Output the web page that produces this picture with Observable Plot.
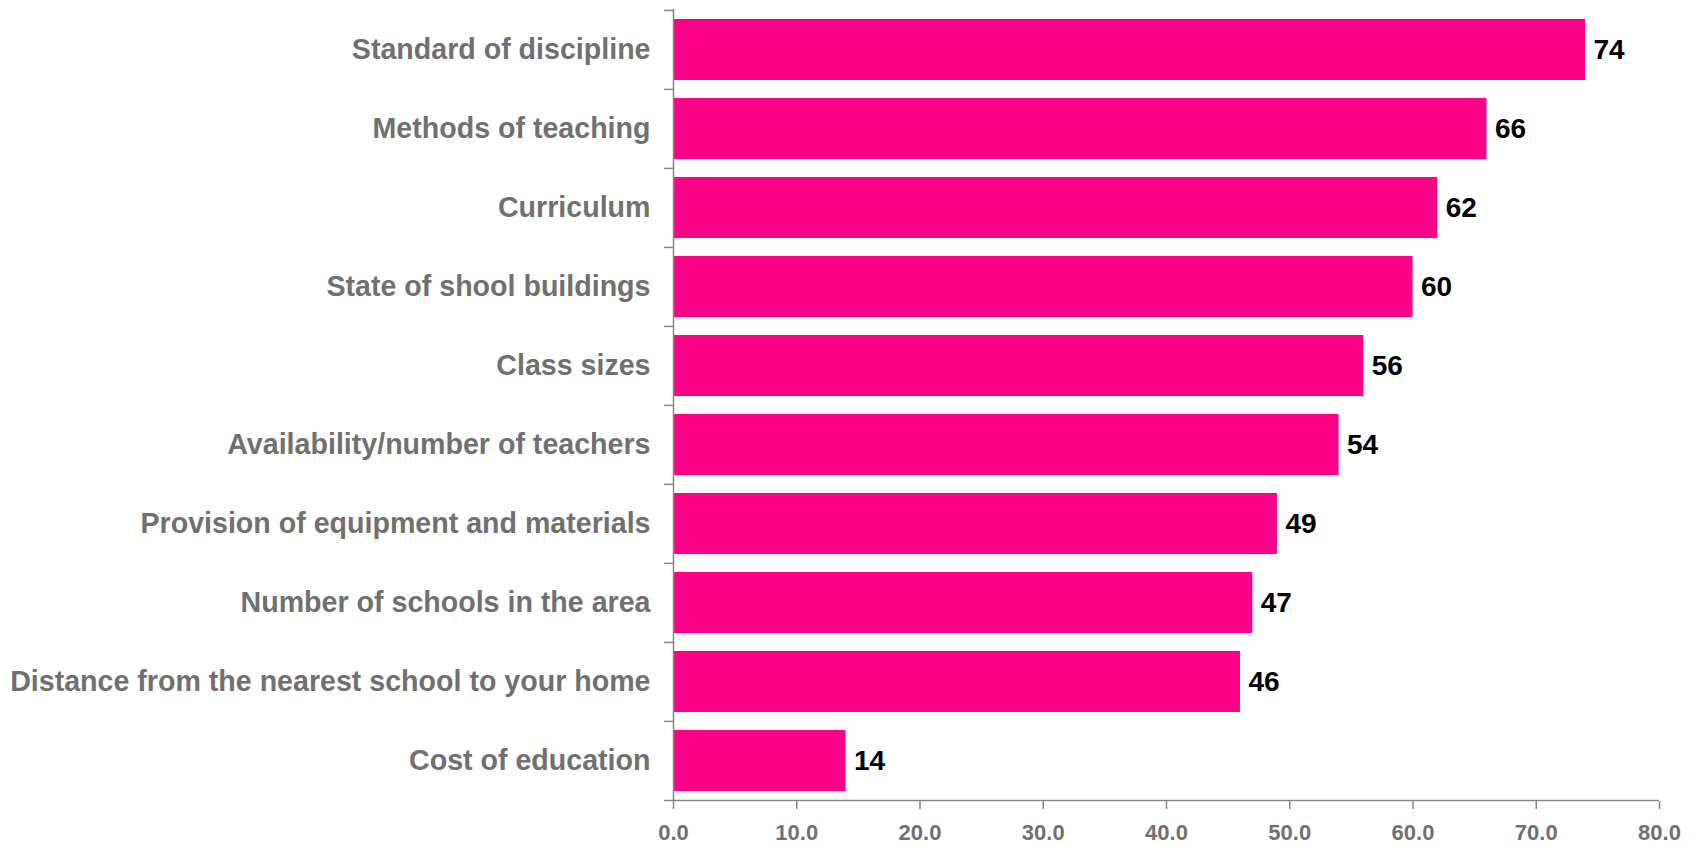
<!DOCTYPE html>
<html><head><meta charset="utf-8">
<script src="https://cdn.jsdelivr.net/npm/d3@7"></script>
<script src="https://cdn.jsdelivr.net/npm/@observablehq/plot@0.6"></script>
<style>body{margin:0;background:#fff}</style>
</head><body><div id="chart"></div>
<script>
const categories = [
  "Standard of discipline",
  "Methods of teaching",
  "Curriculum",
  "State of shool buildings",
  "Class sizes",
  "Availability/number of teachers",
  "Provision of equipment and materials",
  "Number of schools in the area",
  "Distance from the nearest school to your home",
  "Cost of education"
];
const values = [74, 66, 62, 60, 56, 54, 49, 47, 46, 14];
const xTicks = [0, 10, 20, 30, 40, 50, 60, 70, 80];
const xDomain = [0, 80];

const data = categories.map((c, i) => ({category: c, value: values[i]}));

const W = 1694, H = 846, mT = 9, mB = 45, mL = 673, mR = 35;
const step = (H - mT - mB) / categories.length;
const pad = 0.23;
const axisColor = "#868686";
const labelColor = "#707070";

const chart = Plot.plot({
  width: W, height: H,
  marginTop: mT, marginBottom: mB, marginLeft: mL, marginRight: mR,
  style: {fontFamily: "'Liberation Sans', Arial, sans-serif", fontWeight: "bold", background: "#fff"},
  x: {domain: xDomain, label: null},
  y: {domain: categories, paddingInner: pad, paddingOuter: pad / 2, label: null},
  marks: [
    Plot.barX(data, {x: "value", y: "category", fill: "#FF0088"}),
    Plot.ruleX([0], {stroke: axisColor, strokeWidth: 1.5}),
    Plot.ruleY(categories, {y: d => d, x1: 0, x2: 0, insetLeft: -9, dy: -step / 2, stroke: axisColor, strokeWidth: 1.5}),
    Plot.ruleY([categories[categories.length - 1]], {y: d => d, x1: xDomain[0], x2: xDomain[1], insetLeft: -9, dy: step / 2, stroke: axisColor, strokeWidth: 1.5}),
    Plot.text(data, {x: "value", y: "category", text: d => String(d.value), textAnchor: "start", dx: 8, fontSize: 28, fontWeight: "bold", fill: "#000"}),
    Plot.axisY({tickSize: 0, tickPadding: 23, fontSize: 28.6, fill: labelColor}),
    Plot.axisX({ticks: xTicks, tickFormat: d3.format(".1f"), tickSize: 8, tickPadding: 15, fontSize: 22, stroke: axisColor, strokeWidth: 1.5, fill: labelColor})
  ]
});
document.getElementById("chart").appendChild(chart);
</script>
</body></html>
